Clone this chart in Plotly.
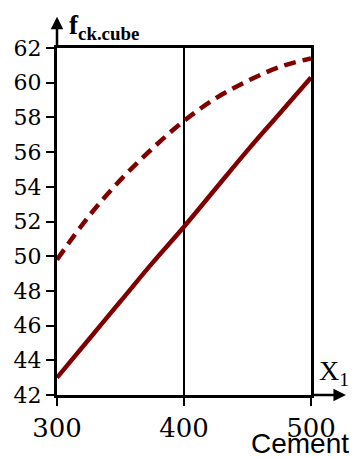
import plotly.graph_objects as go

# cement content (kg/m3) and predicted cube strength (MPa)
cement = [300, 325, 350, 375, 400, 425, 450, 475, 500]
f_solid = [43.0, 45.2, 47.4, 49.6, 51.7, 53.9, 56.1, 58.2, 60.3]
f_dashed = [49.8, 52.3, 54.4, 56.2, 57.8, 59.1, 60.1, 60.9, 61.4]

x_ticks = [300, 400, 500]
y_ticks = list(range(42, 63, 2))

red = "#800000"
serif = "Liberation Serif"
tick_serif = "DejaVu Serif"

fig = go.Figure()

fig.add_trace(go.Scatter(
    x=cement, y=f_dashed, mode="lines",
    line=dict(color=red, width=4.5, dash="12px,7px", shape="spline"),
    showlegend=False,
))
fig.add_trace(go.Scatter(
    x=cement, y=f_solid, mode="lines",
    line=dict(color=red, width=4.5, shape="spline"),
    showlegend=False,
))

# vertical reference line at 400
fig.add_shape(type="line", x0=400, x1=400, y0=42, y1=62,
              xref="x", yref="y", line=dict(color="black", width=2), layer="below")

# axis arrows
fig.add_annotation(x=300, y=63.8, ax=300, ay=62, xref="x", yref="y",
                   axref="x", ayref="y", showarrow=True, arrowhead=2,
                   arrowsize=1, arrowwidth=2.5, arrowcolor="black", text="")
fig.add_annotation(x=527.5, y=42, ax=500, ay=42, xref="x", yref="y",
                   axref="x", ayref="y", showarrow=True, arrowhead=2,
                   arrowsize=1, arrowwidth=2.5, arrowcolor="black", text="")

# axis labels
fig.add_annotation(xref="paper", yref="paper", x=0.04, y=1.06,
                   xanchor="left", yanchor="middle", showarrow=False,
                   text="<b>f<sub>ck.cube</sub></b>",
                   font=dict(family=serif, size=27, color="black"))
fig.add_annotation(xref="paper", yref="paper", x=1.025, y=0.066,
                   xanchor="left", yanchor="middle", showarrow=False,
                   text="X<sub>1</sub>",
                   font=dict(family=serif, size=28, color="black"))
fig.add_annotation(xref="paper", yref="paper", x=1.157, y=-0.14,
                   xanchor="right", yanchor="middle", showarrow=False,
                   text="Cement",
                   font=dict(family="Liberation Sans", size=28, color="black"))

fig.update_xaxes(
    range=[300, 500], tickvals=x_ticks,
    ticks="outside", ticklen=8,
    tickwidth=2, tickcolor="black", showline=True, linewidth=3,
    linecolor="black", mirror=True, showgrid=False, zeroline=False,
    automargin=False,
    tickfont=dict(family=tick_serif, size=26, color="black"),
)
fig.update_yaxes(
    range=[42, 62], tickvals=y_ticks,
    ticks="outside", ticklen=8,
    tickwidth=2, tickcolor="black", showline=True, linewidth=3,
    linecolor="black", mirror=True, showgrid=False, zeroline=False,
    automargin=False,
    tickfont=dict(family=tick_serif, size=22, color="black"),
)

fig.update_layout(
    width=352, height=457,
    margin=dict(l=57, r=41, t=48, b=62),
    font=dict(family=serif, color="black"),
    plot_bgcolor="white", paper_bgcolor="white",
)

# drop the page's default body margin so the figure fills the window
fig.write_html("out.html", config={"displayModeBar": False},
               post_script="document.body.style.margin='0';")
